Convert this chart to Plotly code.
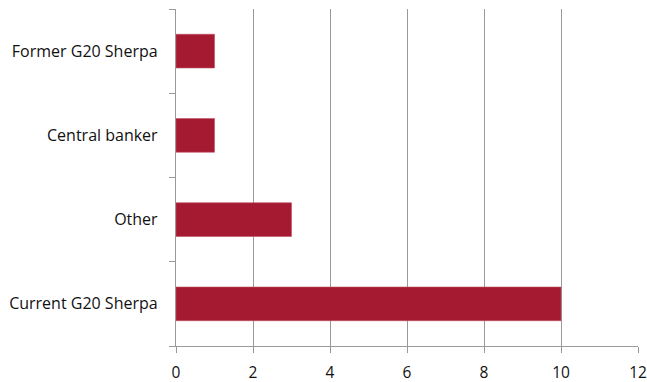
import plotly.graph_objects as go

categories = ["Current G20 Sherpa", "Other", "Central banker", "Former G20 Sherpa"]
values = [10, 3, 1, 1]
x_ticks = [0, 2, 4, 6, 8, 10, 12]

BAR = "#A51A31"
GRID = "#9a9a9a"

fig = go.Figure(
    go.Bar(
        x=values,
        y=categories,
        orientation="h",
        width=0.4,
        marker=dict(color=BAR, line=dict(color="#c0505f", width=0.6)),
        hoverinfo="x+y",
    )
)

fig.update_layout(
    width=647,
    height=382,
    margin=dict(l=176, r=9, t=9, b=36, autoexpand=False),
    paper_bgcolor="white",
    plot_bgcolor="white",
    showlegend=False,
    font=dict(family="Open Sans, Noto Sans, sans-serif", size=15, color="#111111"),
    xaxis=dict(
        range=[0, 12],
        tickvals=x_ticks,
        automargin=False,
        showgrid=True,
        gridcolor=GRID,
        gridwidth=1.3,
        zeroline=False,
        showline=True,
        linecolor=GRID,
        linewidth=1.3,
        ticks="outside",
        ticklen=6,
        tickcolor=GRID,
        tickwidth=1.3,
        ticklabelstandoff=6,
        tickfont=dict(size=15.5),
    ),
    yaxis=dict(
        type="category",
        categoryorder="array",
        categoryarray=categories,
        range=[-0.5, 3.5],
        automargin=False,
        tickson="boundaries",
        showgrid=False,
        zeroline=False,
        showline=True,
        linecolor=GRID,
        linewidth=1.3,
        ticks="outside",
        ticklen=6,
        tickcolor=GRID,
        tickwidth=1.3,
        ticklabelstandoff=14,
        tickfont=dict(size=16),
    ),
)

fig.write_html("out.html")
